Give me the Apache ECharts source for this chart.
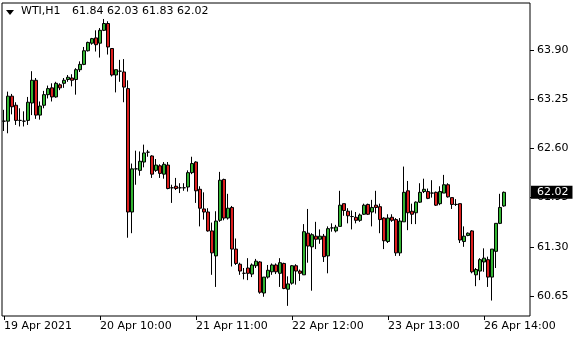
<!DOCTYPE html>
<html><head><meta charset="utf-8">
<script src="https://cdn.jsdelivr.net/npm/echarts@6/dist/echarts.min.js"></script>
<style>html,body{margin:0;padding:0;background:#fff}#c{width:580px;height:340px}</style>
</head><body><div id="c"></div>
<script>
const symbolName = 'WTI,H1';
const lastBarText = '61.84 62.03 61.83 62.02';
const opens = [62.96,62.96,63.29,63.17,62.97,62.96,62.97,63.20,63.50,63.04,
63.17,63.31,63.40,63.28,63.44,63.46,63.51,63.53,63.51,63.64,
63.71,63.89,63.99,64.06,63.99,64.16,64.25,63.92,63.57,63.62,
63.61,63.39,61.76,62.33,62.31,62.42,62.55,62.50,62.31,62.37,
62.26,62.38,62.08,62.10,62.08,62.08,62.09,62.28,62.42,62.06,
61.80,61.76,61.51,61.18,61.65,62.19,61.68,61.82,61.27,61.07,
60.95,61.02,60.94,61.05,61.10,60.69,60.90,60.97,61.06,60.95,
61.08,60.74,60.82,61.05,60.98,60.93,61.48,61.30,61.44,61.40,
61.44,61.18,61.55,61.51,61.57,61.87,61.77,61.70,61.69,61.65,
61.73,61.86,61.76,61.85,61.83,61.68,61.37,61.69,61.66,61.22,
61.63,62.04,61.77,61.75,61.89,62.03,62.03,62.01,62.02,61.87,
62.01,62.12,61.95,61.86,61.87,61.37,61.45,61.51,60.93,60.98,
61.10,61.13,60.90,61.24,61.61,61.84];
const closes = [62.96,63.29,63.15,62.97,62.97,62.96,63.21,63.50,63.04,63.16,
63.31,63.39,63.28,63.46,63.40,63.50,63.54,63.50,63.64,63.71,
63.89,64.00,64.05,63.97,64.16,64.25,63.94,63.57,63.64,63.62,
63.41,61.76,62.33,62.33,62.43,62.54,62.55,62.26,62.38,62.27,
62.39,62.07,62.08,62.07,62.08,62.08,62.28,62.40,62.04,61.81,
61.76,61.51,61.22,61.64,62.18,61.68,61.81,61.27,61.08,60.98,
60.95,60.95,61.06,61.11,60.70,60.90,60.99,61.06,60.97,61.09,
60.75,60.81,61.05,60.98,60.95,61.50,61.31,61.46,61.40,61.44,
61.17,61.54,61.55,61.56,61.85,61.78,61.71,61.70,61.65,61.72,
61.85,61.73,61.82,61.82,61.66,61.38,61.68,61.65,61.22,61.64,
62.02,61.75,61.73,61.89,62.02,62.06,61.94,62.01,61.85,62.03,
62.12,61.96,61.86,61.86,61.39,61.44,61.48,60.97,61.00,61.13,
61.15,60.90,61.27,61.61,61.82,62.02];
const lows = [62.83,62.80,63.05,62.91,62.89,62.89,62.91,63.04,62.99,62.98,
63.13,63.26,63.22,63.27,63.37,63.40,63.48,63.42,63.31,63.61,
63.70,63.88,63.97,63.88,63.80,64.15,63.84,63.55,63.34,63.48,
63.21,61.42,61.48,62.12,62.24,62.35,62.49,62.21,62.29,62.21,
62.20,62.06,61.88,62.05,62.01,62.04,62.03,62.26,61.88,61.57,
61.66,61.50,60.93,60.77,61.63,61.65,61.66,61.04,61.06,60.93,
60.87,60.86,60.90,61.02,60.68,60.64,60.88,60.93,60.94,60.77,
60.74,60.52,60.80,60.80,60.85,60.93,61.09,60.72,61.27,61.34,
61.10,60.95,61.50,61.49,61.57,61.71,61.61,61.53,61.61,61.63,
61.72,61.72,61.57,61.74,61.48,61.27,61.35,61.63,61.18,61.18,
61.63,61.52,61.60,61.60,61.88,62.01,61.93,61.95,61.84,61.85,
62.01,61.95,61.80,61.84,61.35,61.30,61.44,60.95,60.78,60.86,
60.97,60.77,60.59,61.02,61.60,61.83];
const highs = [63.11,63.35,63.32,63.21,63.13,63.09,63.28,63.62,63.53,63.22,
63.36,63.43,63.46,63.48,63.46,63.53,63.57,63.58,63.66,63.75,
63.94,64.01,64.06,64.16,64.19,64.31,64.28,63.92,63.64,63.77,
63.78,63.50,62.40,62.57,62.56,62.65,62.58,62.51,62.46,62.39,
62.42,62.42,62.12,62.21,62.14,62.14,62.31,62.49,62.43,62.10,
62.02,61.81,61.62,61.77,62.29,62.20,62.00,61.84,61.41,61.09,
61.02,61.15,61.08,61.14,61.11,60.90,61.06,61.08,61.08,61.15,
61.09,60.91,61.06,61.07,61.00,61.60,61.80,61.48,61.63,61.53,
61.47,61.57,61.61,61.59,62.04,61.87,61.81,61.78,61.76,61.74,
61.87,61.87,61.92,62.04,61.87,61.69,61.73,61.73,61.68,61.68,
62.36,62.17,61.87,61.90,62.14,62.20,62.07,62.18,62.03,62.10,
62.25,62.14,61.95,61.93,61.87,61.57,61.49,61.52,61.02,61.15,
61.28,61.17,61.27,61.61,62.00,62.03];
const tickIndex = [0, 24, 48, 72, 96, 120];
const tickLabels = ['19 Apr 2021', '20 Apr 10:00', '21 Apr 11:00', '22 Apr 12:00', '23 Apr 13:00', '26 Apr 14:00'];
const yTicks = [60.65, 61.30, 61.95, 62.60, 63.25, 63.90];
const lastPrice = 62.02;
const totalSlots = 132;

const cats = [];
for (let i = 0; i < totalSlots; i++) cats.push(String(i));
const ohlc = opens.map((o, i) => [o, closes[i], lows[i], highs[i]]);
const FONT = 'DejaVu Sans';

const chart = echarts.init(document.getElementById('c'), null, {renderer: 'canvas'});
chart.setOption({
  animation: false,
  backgroundColor: '#fff',
  grid: {left: 2, top: 3, right: 50, bottom: 24, show: true, borderColor: '#000', borderWidth: 1, backgroundColor: '#fff'},
  xAxis: {
    type: 'category', data: cats, boundaryGap: true,
    axisLine: {show: false},
    axisTick: {show: true, alignWithLabel: true, interval: (i) => tickIndex.includes(i), length: 4, lineStyle: {color: '#000'}},
    axisLabel: {
      interval: (i) => tickIndex.includes(i),
      formatter: (v) => { const k = tickIndex.indexOf(Number(v)); return k >= 0 ? tickLabels[k] : ''; },
      align: 'left', margin: 5, color: '#000', fontFamily: FONT, fontSize: 11
    },
    splitLine: {show: false}
  },
  yAxis: {
    type: 'value', position: 'right', min: 60.386, max: 64.521,
    axisLine: {show: false},
    axisTick: {show: true, customValues: yTicks, length: 4, lineStyle: {color: '#000'}},
    axisLabel: {customValues: yTicks, formatter: (v) => v.toFixed(2), margin: 7, color: '#000', fontFamily: FONT, fontSize: 11},
    splitLine: {show: false}
  },
  graphic: [
    {type: 'polygon', shape: {points: [[6, 10], [14, 10], [10, 15]]}, style: {fill: '#000'}},
    {type: 'text', left: 21, top: 6, style: {text: symbolName, fill: '#000', font: '11px "DejaVu Sans"'}},
    {type: 'text', left: 72, top: 6, style: {text: lastBarText, fill: '#000', font: '11px "DejaVu Sans"'}}
  ],
  series: [{
    type: 'candlestick', data: ohlc, barWidth: 3,
    itemStyle: {color: '#32b432', color0: '#dc1e1e', borderColor: '#000', borderColor0: '#000', borderWidth: 1},
    markLine: {
      silent: true, symbol: ['none', 'none'], animation: false,
      lineStyle: {color: 'rgba(0,0,0,0)', width: 0},
      label: {show: true, position: 'end', formatter: lastPrice.toFixed(2), backgroundColor: '#000', color: '#fff',
        padding: [1, 4, 1, 6], distance: 1, fontFamily: FONT, fontSize: 11},
      data: [{yAxis: lastPrice}]
    }
  }]
});
</script></body></html>
